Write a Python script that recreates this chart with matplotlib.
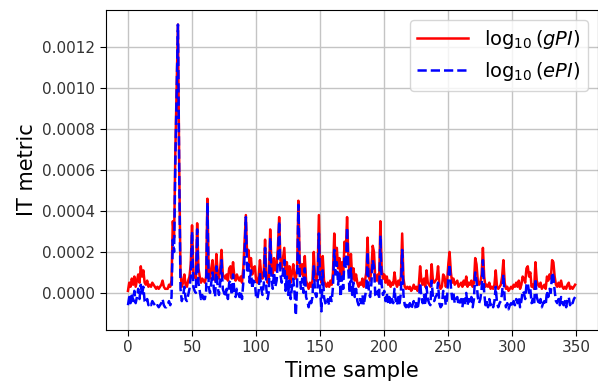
import numpy as np
import matplotlib
matplotlib.use('Agg')
import matplotlib.pyplot as plt

# values, in units of 1e-5
gpi = [
    1, 5, 3, 7, 4, 8, 3, 6, 9, 5,
    13, 8, 11, 5, 4, 6, 3, 4, 3, 5,
    4, 3, 2, 3, 2, 3, 4, 6, 3, 2,
    2, 2, 4, 3, 6, 35, 27, 70, 100, 131,
    62, 10, 3, 5, 9, 4, 3, 6, 8, 14,
    33, 10, 8, 7, 34, 12, 8, 5, 7, 6,
    5, 8, 46, 10, 7, 12, 16, 9, 6, 19,
    10, 7, 12, 21, 9, 8, 7, 9, 6, 12,
    13, 7, 15, 8, 6, 9, 7, 6, 8, 5,
    12, 25, 38, 18, 21, 13, 17, 9, 12, 13,
    6, 5, 8, 16, 9, 7, 11, 26, 9, 5,
    8, 31, 14, 9, 17, 11, 13, 22, 37, 16,
    12, 17, 22, 9, 15, 7, 13, 5, 10, 14,
    8, 7, 12, 45, 16, 9, 14, 8, 18, 6,
    4, 2, 5, 3, 6, 20, 8, 6, 10, 38,
    10, 5, 18, 6, 4, 3, 5, 3, 6, 4,
    10, 29, 16, 22, 12, 17, 6, 15, 9, 25,
    20, 37, 18, 8, 19, 7, 12, 6, 9, 5,
    3, 5, 4, 7, 3, 6, 10, 27, 8, 6,
    12, 23, 20, 7, 6, 9, 5, 35, 12, 7,
    9, 5, 8, 4, 6, 3, 5, 4, 10, 5,
    3, 6, 4, 8, 29, 7, 3, 2, 3, 2,
    3, 1, 2, 4, 2, 3, 1, 4, 13, 6,
    4, 7, 3, 11, 5, 4, 3, 14, 6, 5,
    6, 7, 13, 4, 2, 3, 9, 8, 3, 5,
    14, 20, 10, 5, 7, 4, 5, 6, 3, 4,
    5, 3, 6, 4, 8, 3, 5, 4, 6, 3,
    5, 17, 14, 6, 4, 5, 9, 22, 8, 3,
    4, 3, 5, 2, 3, 2, 4, 11, 3, 2,
    3, 4, 8, 16, 5, 2, 3, 1, 2, 3,
    2, 4, 3, 5, 3, 6, 2, 4, 8, 7,
    5, 12, 13, 8, 10, 3, 4, 2, 15, 6,
    4, 3, 5, 2, 3, 4, 2, 8, 6, 9,
    7, 16, 15, 8, 4, 3, 5, 3, 6, 3,
    2, 3, 2, 4, 5, 2, 3, 2, 3, 4,
]

epi = [
    -6, -2, -5, 0, -4, 1, -5, -2, 2, -3,
    4, -1, 3, -4, -5, -3, -6, -5, -6, -4,
    -5, -6, -7, -6, -7, -6, -5, -3, -6, -7,
    -7, -6, -4, -6, -2, 26, 20, 65, 98, 131,
    58, 2, -4, -2, 3, -3, -4, -1, 2, 8,
    30, 3, 1, 0, 31, 5, 1, -3, -1, -3,
    -3, 1, 44, 3, 0, 5, 10, 2, -2, 13,
    3, -1, 5, 16, 2, 0, -2, 2, -3, 5,
    6, -1, 9, 1, -2, 2, 0, -2, 1, -3,
    5, 18, 37, 11, 14, 5, 11, 2, 6, 5,
    -2, -3, 1, 10, 2, -1, 4, 22, 2, -3,
    1, 27, 7, 2, 10, 3, 6, 15, 35, 9,
    5, 10, 16, 1, 8, -1, 6, -3, 3, 7,
    0, -11, 4, 43, 9, 2, 7, 0, 12, -2,
    -4, -7, -3, -5, -2, 13, 0, -2, 3, 29,
    2, -9, 11, -2, -5, -6, -3, -6, -2, -4,
    3, 21, 9, 15, 4, 10, -2, 8, 2, 18,
    12, 32, 11, 0, 12, -1, 5, -2, 2, -4,
    -6, -3, -5, -1, -6, -2, 2, 20, 0, -2,
    5, 16, 13, -1, -2, 1, -3, 28, 4, -1,
    1, -4, 0, -5, -2, -6, -3, -5, 2, -4,
    -6, -2, -5, 0, 21, -1, -6, -7, -5, -7,
    -5, -8, -6, -4, -7, -5, -8, -4, 5, -2,
    -5, -1, -6, 3, -3, -5, -6, 6, -2, -4,
    -2, -1, 5, -5, -7, -6, 1, 0, -6, -3,
    8, 14, 3, -3, 0, -5, -3, -2, -6, -4,
    -3, -7, -2, -5, 0, -6, -3, -5, -2, -7,
    -3, 10, 6, -2, -5, -3, 2, 16, 0, -6,
    -4, -7, -3, -6, -5, -7, -4, 3, -5, -7,
    -5, -4, 0, 9, -3, -7, -5, -8, -6, -5,
    -7, -4, -6, -3, -5, -2, -7, -4, 1, 0,
    -3, 4, 5, 0, 2, -5, -3, -6, 7, -2,
    -4, -6, -3, -7, -5, -4, -6, 1, -2, 2,
    0, 10, 8, 1, -4, -5, -3, -6, -2, -5,
    -6, -4, -7, -3, -2, -6, -4, -5, -3, -2,
]

labels = [r'$\log_{10}(gPI)$', r'$\log_{10}(ePI)$']

plt.rcParams['mathtext.fontset'] = 'dejavusans'

t = np.arange(len(gpi))
g = np.array(gpi) * 1e-5
e = np.array(epi) * 1e-5

fig = plt.figure(figsize=(5.98, 3.85), dpi=100)
ax = fig.add_axes([0.1766, 0.1429, 0.8226, 0.831])

ax.plot(t, g, color='red', lw=1.8, label=labels[0])
ax.plot(t, e, color='blue', lw=1.8, ls='--', label=labels[1])

ax.grid(True, color='#c4c4c4', lw=1.0)
ax.set_axisbelow(True)
ax.tick_params(labelsize=11, labelcolor='#333333', length=4)
ax.set_xlabel('Time sample', fontsize=15)
ax.set_ylabel('IT metric', fontsize=15)
ax.legend(loc='upper right', fontsize=14, handlelength=2.6)

fig.savefig('out.png', dpi=100)
